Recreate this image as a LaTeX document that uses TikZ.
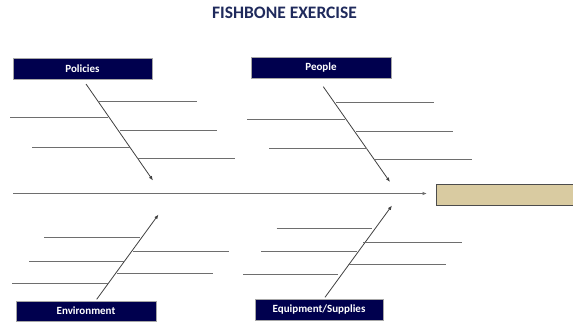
\documentclass[tikz,border=0pt]{standalone}
\usepackage{fontspec}
\setmainfont{Carlito}
\usetikzlibrary{arrows.meta}
\definecolor{navybox}{HTML}{00004E}
\definecolor{titleblue}{HTML}{1F2A5C}
\definecolor{tanbox}{HTML}{D9CBA1}
\definecolor{bonegray}{HTML}{6E6E6E}
\begin{document}
\begin{tikzpicture}[x=1pt,y=-1pt,
  catbox/.style={draw=gray!70, fill=navybox, text=white, font=\bfseries\fontsize{11}{12}\selectfont, inner sep=0pt, minimum height=21pt},
  rib/.style={draw=bonegray, line width=1pt},
  bone/.style={draw=black!75, line width=0.8pt, -{Latex[length=4.5pt,width=3.5pt]}},
  spine/.style={draw=bonegray, line width=1pt, -{Latex[length=4.5pt,width=3.5pt]}}]
\useasboundingbox (0,0) rectangle (573,322);
% title
\node[font=\bfseries\fontsize{17.5}{19}\selectfont, text=titleblue] (title) at (284.5,13) {FISHBONE EXERCISE};
% category boxes
\node[catbox, minimum width=139pt] (policies) at (82.5,68.5) {Policies};
\node[catbox, minimum width=140pt] (people) at (321,68) {People};
\node[catbox, minimum width=140pt, minimum height=20pt] (environment) at (86,311) {Environment};
\node[catbox, minimum width=128pt] (equipment) at (319,309.5) {Equipment/Supplies};
% effect box
\node[draw=black!70, fill=tanbox, line width=0.8pt, minimum width=138pt, minimum height=21pt, inner sep=0pt] (effect) at (505,195) {};
% spine
\coordinate (spinestart) at (13,193.5);
\coordinate (spineend) at (427,193.5);
\draw[spine] (spinestart) -- (spineend);
% Policies bone
\coordinate (p0) at (86,84);
\coordinate (p1) at (153,180.5);
\draw[bone] (p0) -- (p1);
\draw[rib] (98,101.7) -- (197,101.7);
\draw[rib] (10,117) -- (108,117);
\draw[rib] (120,130) -- (217,130);
\draw[rib] (32,147) -- (130,147);
\draw[rib] (137,158) -- (235,158);
% People bone
\coordinate (q0) at (323.3,86.7);
\coordinate (q1) at (390,182);
\draw[bone] (q0) -- (q1);
\draw[rib] (336,102.7) -- (434,102.7);
\draw[rib] (247.3,119) -- (345,119);
\draw[rib] (356,131.7) -- (453,131.7);
\draw[rib] (269,148.3) -- (366.7,148.3);
\draw[rib] (375,159) -- (472,159);
% Environment bone
\coordinate (e0) at (96.7,299.3);
\coordinate (e1) at (158.5,214.5);
\draw[bone] (e0) -- (e1);
\draw[rib] (44,237.7) -- (140,237.7);
\draw[rib] (133,251.7) -- (229,251.7);
\draw[rib] (29,261) -- (125,261);
\draw[rib] (117,273.3) -- (213,273.3);
\draw[rib] (12,283.3) -- (108,283.3);
% Equipment bone
\coordinate (s0) at (325,297.3);
\coordinate (s1) at (392,205.5);
\draw[bone] (s0) -- (s1);
\draw[rib] (276.7,228.3) -- (371.7,228.3);
\draw[rib] (363,242.7) -- (461.7,242.7);
\draw[rib] (261,251.7) -- (356.7,251.7);
\draw[rib] (348,264) -- (446,264);
\draw[rib] (243,274) -- (338,274);
\end{tikzpicture}
\end{document}
